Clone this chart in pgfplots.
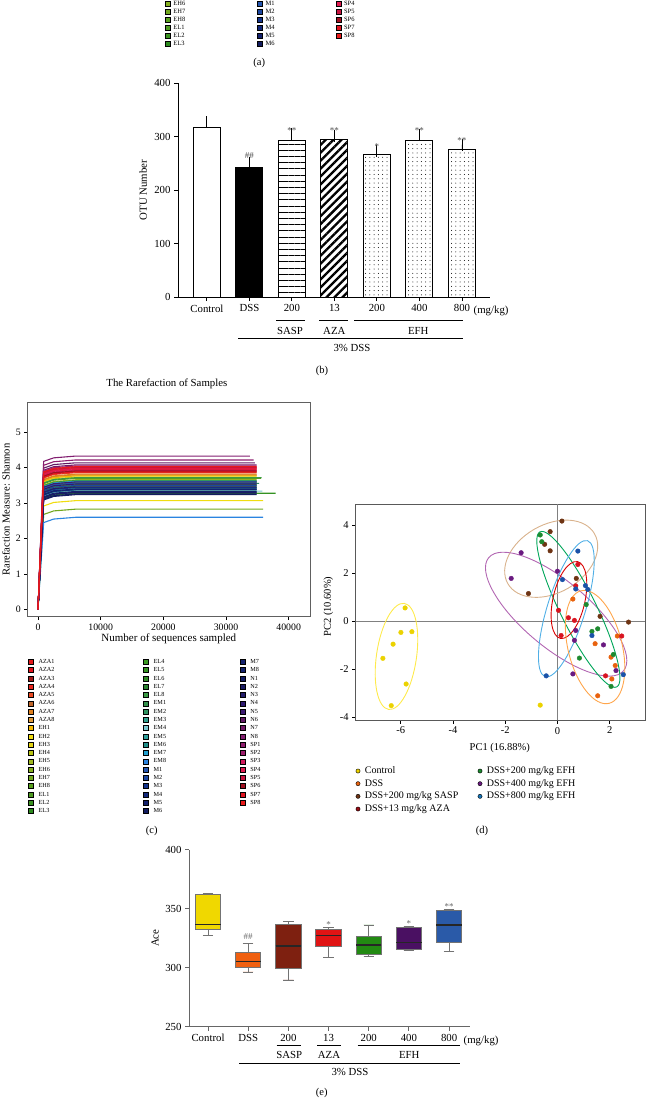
\documentclass[border=0pt]{standalone}
\usepackage{fontspec}
\setmainfont{Liberation Serif}
\usepackage{pgfplots}
\pgfplotsset{compat=1.18}
\usepgfplotslibrary{statistics}
\usetikzlibrary{patterns.meta}

% sample colours (rarefaction + legends)
\definecolor{cAZA1}{HTML}{E41A1C}\definecolor{cAZA2}{HTML}{E3141E}\definecolor{cAZA3}{HTML}{9E1A1A}\definecolor{cAZA4}{HTML}{E8261E}
\definecolor{cAZA5}{HTML}{EA4A22}\definecolor{cAZA6}{HTML}{C0662A}\definecolor{cAZA7}{HTML}{E0801E}\definecolor{cAZA8}{HTML}{E09A3A}
\definecolor{cEH1}{HTML}{F5B800}\definecolor{cEH2}{HTML}{F0DC10}\definecolor{cEH3}{HTML}{E4D414}\definecolor{cEH4}{HTML}{B8C414}
\definecolor{cEH5}{HTML}{A0B820}\definecolor{cEH6}{HTML}{86B020}\definecolor{cEH7}{HTML}{72A81E}\definecolor{cEH8}{HTML}{58A01E}
\definecolor{cEL1}{HTML}{4E9A22}\definecolor{cEL2}{HTML}{3A9220}\definecolor{cEL3}{HTML}{2C8A1E}\definecolor{cEL4}{HTML}{3A9A22}
\definecolor{cEL5}{HTML}{349222}\definecolor{cEL6}{HTML}{2E8A24}\definecolor{cEL7}{HTML}{2A8230}\definecolor{cEL8}{HTML}{3A9A44}
\definecolor{cEM1}{HTML}{34924C}\definecolor{cEM2}{HTML}{2E9260}\definecolor{cEM3}{HTML}{30A08E}\definecolor{cEM4}{HTML}{7CC8D0}
\definecolor{cEM5}{HTML}{30A09C}\definecolor{cEM6}{HTML}{22908A}\definecolor{cEM7}{HTML}{22A0D0}\definecolor{cEM8}{HTML}{2A84E0}
\definecolor{cM1}{HTML}{2456B0}\definecolor{cM2}{HTML}{1C46A0}\definecolor{cM3}{HTML}{14348C}\definecolor{cM4}{HTML}{12287A}
\definecolor{cM5}{HTML}{12206C}\definecolor{cM6}{HTML}{121C60}\definecolor{cM7}{HTML}{142270}\definecolor{cM8}{HTML}{14226C}
\definecolor{cN1}{HTML}{141C62}\definecolor{cN2}{HTML}{1C1C64}\definecolor{cN3}{HTML}{241C6A}\definecolor{cN4}{HTML}{2E1A70}
\definecolor{cN5}{HTML}{3C1A72}\definecolor{cN6}{HTML}{621A64}\definecolor{cN7}{HTML}{721A66}\definecolor{cN8}{HTML}{821E70}
\definecolor{cSP1}{HTML}{8E1E6E}\definecolor{cSP2}{HTML}{9C1E6C}\definecolor{cSP3}{HTML}{D01A5C}\definecolor{cSP4}{HTML}{E01A50}
\definecolor{cSP5}{HTML}{C81440}\definecolor{cSP6}{HTML}{A01020}\definecolor{cSP7}{HTML}{E01420}\definecolor{cSP8}{HTML}{E81A1A}
% group colours
\definecolor{gCtl}{HTML}{EBD200}\definecolor{gDSS}{HTML}{E8620E}\definecolor{gSASP}{HTML}{6E3414}
\definecolor{gAZA}{HTML}{D81420}\definecolor{gE2}{HTML}{1E8A30}\definecolor{gE4}{HTML}{6A1A80}\definecolor{gE8}{HTML}{1A52A8}
\definecolor{bCtl}{HTML}{F0D800}\definecolor{bDSS}{HTML}{F06010}\definecolor{bSASP}{HTML}{7E2010}
\definecolor{bAZA}{HTML}{E01414}\definecolor{bE2}{HTML}{228A12}\definecolor{bE4}{HTML}{4A1062}\definecolor{bE8}{HTML}{2A5AA8}

\pgfplotsset{
  sqleg/.style={legend image code/.code={\fill[##1] (0pt,-2.5pt) rectangle (5pt,2.5pt);}},
  dotleg/.style={legend image code/.code={\fill[##1] (2pt,0pt) circle (2.1pt);}},
  legaxis/.style={hide axis, scale only axis, width=1pt, height=1pt, xmin=0, xmax=1, ymin=0, ymax=1,
    anchor=north west, legend cell align=left,
    legend style={at={(0,1)}, anchor=north west, draw=none, fill=none, inner sep=0pt, outer sep=0pt}},
  smallleg/.style={legend style={font=\fontsize{6.2}{6.2}\selectfont, row sep=2.79pt, column sep=5pt,
    nodes={inner sep=0pt, text height=4.5pt, text depth=1pt}}},
}

\begin{document}
\begin{tikzpicture}
\useasboundingbox (0,0) rectangle (646pt,-1099pt);

% ---------- (a) remaining legend rows ----------
\begin{axis}[legaxis, sqleg, smallleg, at={(165pt,-0.6pt)}, legend style={row sep=2.64pt, column sep=3pt, font=\fontsize{6.5}{6.5}\selectfont}]
\addlegendimage{fill=cEH6}\addlegendentry{EH6}
\addlegendimage{fill=cEH7}\addlegendentry{EH7}
\addlegendimage{fill=cEH8}\addlegendentry{EH8}
\addlegendimage{fill=cEL1}\addlegendentry{EL1}
\addlegendimage{fill=cEL2}\addlegendentry{EL2}
\addlegendimage{fill=cEL3}\addlegendentry{EL3}
\end{axis}
\begin{axis}[legaxis, sqleg, smallleg, at={(257.3pt,-0.6pt)}, legend style={row sep=2.64pt, column sep=3pt, font=\fontsize{6.5}{6.5}\selectfont}]
\addlegendimage{fill=cM1}\addlegendentry{M1}
\addlegendimage{fill=cM2}\addlegendentry{M2}
\addlegendimage{fill=cM3}\addlegendentry{M3}
\addlegendimage{fill=cM4}\addlegendentry{M4}
\addlegendimage{fill=cM5}\addlegendentry{M5}
\addlegendimage{fill=cM6}\addlegendentry{M6}
\end{axis}
\begin{axis}[legaxis, sqleg, smallleg, at={(335.7pt,-0.6pt)}, legend style={row sep=2.64pt, column sep=3pt, font=\fontsize{6.5}{6.5}\selectfont}]
\addlegendimage{fill=cSP4}\addlegendentry{SP4}
\addlegendimage{fill=cSP5}\addlegendentry{SP5}
\addlegendimage{fill=cSP6}\addlegendentry{SP6}
\addlegendimage{fill=cSP7}\addlegendentry{SP7}
\addlegendimage{fill=cSP8}\addlegendentry{SP8}
\end{axis}
\node[font=\fontsize{10.5}{12}\selectfont] at (259.3pt,-63.3pt) {(a)};

% ---------- (b) OTU number ----------
\begin{axis}[at={(178pt,-297pt)}, anchor=south west, scale only axis, width=312pt, height=214pt,
  xmin=-0.68, xmax=6.66, ymin=0, ymax=400,
  axis lines*=left, axis line style={line width=0.9pt},
  tick align=outside, major tick length=4pt, tick style={black, line width=0.9pt},
  xtick={0,...,6}, xticklabels={Control,DSS,200,13,200,400,800},
  ytick={0,100,200,300,400},
  /pgf/number format/assume math mode=true,
  font=\fontsize{10.8}{12}\selectfont,
  ylabel={OTU Number}, ylabel style={at={(axis description cs:-0.112,0.5)}, anchor=center},
  ybar, bar width=27pt, bar shift=0pt,
  every axis plot/.append style={draw=black, line width=1pt, bar shift=0pt,
    error bars/y dir=plus, error bars/y explicit,
    error bars/error bar style={line width=0.9pt, black, solid},
    error bars/error mark options={mark size=6pt, line width=0.9pt, black}},
]
\addplot[fill=white] coordinates {(0,317) +- (0,10)};
\addplot[fill=black] coordinates {(1,242) +- (0,9)};
\addplot[pattern={Lines[angle=0,distance=6.2pt,line width=1pt]}] coordinates {(2,292) +- (0,12)};
\addplot[pattern={Lines[angle=45,distance=5.6pt,line width=2.3pt]}] coordinates {(3,295) +- (0,6)};
\addplot[pattern={Dots[radius=0.5pt,distance=4.3pt]}] coordinates {(4,267) +- (0,6)};
\addplot[pattern={Dots[radius=0.5pt,distance=4.3pt]}] coordinates {(5,292) +- (0,11)};
\addplot[pattern={Dots[radius=0.5pt,distance=4.3pt]}] coordinates {(6,275) +- (0,10)};
\begin{scope}[font=\fontsize{9}{9}\selectfont, black!70]
\node at (axis cs:1,264) {\#\#};
\node at (axis cs:2,311) {**};
\node at (axis cs:3,311) {**};
\node at (axis cs:4,281) {*};
\node at (axis cs:5,311) {**};
\node at (axis cs:6,292) {**};
\end{scope}
\end{axis}
\begin{scope}[line width=0.8pt, font=\fontsize{10.8}{12}\selectfont]
\node[anchor=west] at (470pt,-311pt) {(mg/kg)};
\draw (276pt,-320pt) -- (305pt,-320pt);
\draw (319pt,-320pt) -- (348pt,-320pt);
\draw (354pt,-320pt) -- (463pt,-320pt);
\node at (290pt,-331pt) {SASP};
\node at (334.3pt,-331pt) {AZA};
\node at (418.3pt,-331pt) {EFH};
\draw (238pt,-338pt) -- (463pt,-338pt);
\node at (352pt,-348pt) {3\% DSS};
\node[font=\fontsize{10.5}{12}\selectfont] at (322pt,-371pt) {(b)};
\end{scope}

% ---------- (c) rarefaction ----------
\begin{axis}[at={(27.7pt,-616.7pt)}, anchor=south west, scale only axis, width=282.3pt, height=214.4pt,
  xmin=-1645, xmax=43400, ymin=-0.21, ymax=5.85,
  axis line style={gray!75!black, line width=0.8pt},
  tick align=outside, major tick length=3.5pt, tick style={black, line width=0.7pt},
  xtick pos=bottom, ytick pos=left,
  xtick={0,10000,20000,30000,40000}, ytick={0,1,2,3,4,5},
  scaled x ticks=false, x tick label style={/pgf/number format/1000 sep={}},
  /pgf/number format/assume math mode=true,
  font=\fontsize{9.8}{11}\selectfont,
  title={The Rarefaction of Samples}, title style={font=\fontsize{10.8}{12}\selectfont, at={(0.493,1)}, anchor=south, yshift=4pt},
  xlabel={Number of sequences sampled}, xlabel style={font=\fontsize{11}{12}\selectfont, yshift=3pt},
  ylabel={Rarefaction Measure: Shannon}, ylabel style={font=\fontsize{10.6}{12}\selectfont, at={(axis description cs:-0.077,0.5)}, anchor=center},
  every axis plot/.append style={line width=1.1pt},
]
\addplot[cAZA1] coordinates {(0,0)(900,3.80)(2500,3.90)(6000,3.95)(34900,3.95)};
\addplot[cAZA2] coordinates {(0,0)(900,3.83)(2500,3.93)(6000,3.98)(34900,3.98)};
\addplot[cAZA3] coordinates {(0,0)(900,3.75)(2500,3.85)(6000,3.90)(34900,3.90)};
\addplot[cAZA4] coordinates {(0,0)(900,3.85)(2500,3.95)(6000,4.00)(34900,4.00)};
\addplot[cAZA5] coordinates {(0,0)(900,3.71)(2500,3.81)(6000,3.86)(34900,3.86)};
\addplot[cAZA6] coordinates {(0,0)(900,3.65)(2500,3.75)(6000,3.80)(34900,3.80)};
\addplot[cAZA7] coordinates {(0,0)(900,3.67)(2500,3.77)(6000,3.82)(34900,3.82)};
\addplot[cAZA8] coordinates {(0,0)(900,3.63)(2500,3.73)(6000,3.78)(34900,3.78)};
\addplot[cEH1] coordinates {(0,0)(900,3.62)(2500,3.72)(6000,3.77)(34900,3.77)};
\addplot[cEH2] coordinates {(0,0)(900,2.92)(2500,3.02)(6000,3.07)(35900,3.07)};
\addplot[cEH3] coordinates {(0,0)(900,3.59)(2500,3.69)(6000,3.74)(34900,3.74)};
\addplot[cEH4] coordinates {(0,0)(900,3.47)(2500,3.57)(6000,3.62)(34900,3.62)};
\addplot[cEH5] coordinates {(0,0)(900,3.51)(2500,3.61)(6000,3.66)(34900,3.66)};
\addplot[cEH6] coordinates {(0,0)(900,3.43)(2500,3.53)(6000,3.58)(34900,3.58)};
\addplot[cEH7] coordinates {(0,0)(900,2.68)(2500,2.78)(6000,2.83)(35900,2.83)};
\addplot[cEH8] coordinates {(0,0)(900,3.55)(2500,3.65)(6000,3.70)(35600,3.70)};
\addplot[cEL1] coordinates {(0,0)(900,3.37)(2500,3.47)(6000,3.52)(34900,3.52)};
\addplot[cEL2] coordinates {(0,0)(900,3.49)(2500,3.59)(6000,3.64)(34900,3.64)};
\addplot[cEL3] coordinates {(0,0)(900,3.30)(2500,3.40)(6000,3.45)(34900,3.45)};
\addplot[cEL4] coordinates {(0,0)(900,3.40)(2500,3.50)(6000,3.55)(34900,3.55)};
\addplot[cEL5] coordinates {(0,0)(900,3.13)(2500,3.23)(6000,3.28)(37900,3.28)};
\addplot[cEL6] coordinates {(0,0)(900,3.33)(2500,3.43)(6000,3.48)(34900,3.48)};
\addplot[cEL7] coordinates {(0,0)(900,3.45)(2500,3.55)(6000,3.60)(34900,3.60)};
\addplot[cEL8] coordinates {(0,0)(900,3.57)(2500,3.67)(6000,3.72)(35700,3.72)};
\addplot[cEM1] coordinates {(0,0)(900,3.35)(2500,3.45)(6000,3.50)(34900,3.50)};
\addplot[cEM2] coordinates {(0,0)(900,3.41)(2500,3.51)(6000,3.56)(35300,3.56)};
\addplot[cEM3] coordinates {(0,0)(900,3.25)(2500,3.35)(6000,3.40)(34900,3.40)};
\addplot[cEM4] coordinates {(0,0)(900,3.19)(2500,3.29)(6000,3.34)(35800,3.34)};
\addplot[cEM5] coordinates {(0,0)(900,3.27)(2500,3.37)(6000,3.42)(34900,3.42)};
\addplot[cEM6] coordinates {(0,0)(900,3.22)(2500,3.32)(6000,3.37)(34900,3.37)};
\addplot[cEM7] coordinates {(0,0)(900,3.47)(2500,3.57)(6000,3.62)(34900,3.62)};
\addplot[cEM8] coordinates {(0,0)(900,2.45)(2500,2.55)(6000,2.60)(35900,2.60)};
\addplot[cM1] coordinates {(0,0)(900,3.42)(2500,3.52)(6000,3.57)(34900,3.57)};
\addplot[cM2] coordinates {(0,0)(900,3.35)(2500,3.45)(6000,3.50)(34900,3.50)};
\addplot[cM3] coordinates {(0,0)(900,3.29)(2500,3.39)(6000,3.44)(34900,3.44)};
\addplot[cM4] coordinates {(0,0)(900,3.23)(2500,3.33)(6000,3.38)(34900,3.38)};
\addplot[cM5] coordinates {(0,0)(900,3.15)(2500,3.25)(6000,3.30)(34900,3.30)};
\addplot[cM6] coordinates {(0,0)(900,3.11)(2500,3.21)(6000,3.26)(34900,3.26)};
\addplot[cM7] coordinates {(0,0)(900,3.18)(2500,3.28)(6000,3.33)(34900,3.33)};
\addplot[cM8] coordinates {(0,0)(900,3.25)(2500,3.35)(6000,3.40)(34900,3.40)};
\addplot[cN1] coordinates {(0,0)(900,3.09)(2500,3.19)(6000,3.24)(34900,3.24)};
\addplot[cN2] coordinates {(0,0)(900,3.16)(2500,3.26)(6000,3.31)(34900,3.31)};
\addplot[cN3] coordinates {(0,0)(900,3.31)(2500,3.41)(6000,3.46)(34900,3.46)};
\addplot[cN4] coordinates {(0,0)(900,3.39)(2500,3.49)(6000,3.54)(34900,3.54)};
\addplot[cN5] coordinates {(0,0)(900,3.45)(2500,3.55)(6000,3.60)(34900,3.60)};
\addplot[cN6] coordinates {(0,0)(900,3.99)(2500,4.09)(6000,4.14)(34600,4.14)};
\addplot[cN7] coordinates {(0,0)(900,3.93)(2500,4.03)(6000,4.08)(34900,4.08)};
\addplot[cN8] coordinates {(0,0)(900,4.18)(2500,4.28)(6000,4.33)(33800,4.33)};
\addplot[cSP1] coordinates {(0,0)(900,4.07)(2500,4.17)(6000,4.22)(34400,4.22)};
\addplot[cSP2] coordinates {(0,0)(900,3.90)(2500,4.00)(6000,4.05)(34900,4.05)};
\addplot[cSP3] coordinates {(0,0)(900,3.78)(2500,3.88)(6000,3.93)(34900,3.93)};
\addplot[cSP4] coordinates {(0,0)(900,3.82)(2500,3.92)(6000,3.97)(34900,3.97)};
\addplot[cSP5] coordinates {(0,0)(900,3.86)(2500,3.96)(6000,4.01)(34900,4.01)};
\addplot[cSP6] coordinates {(0,0)(900,3.76)(2500,3.86)(6000,3.91)(34900,3.91)};
\addplot[cSP7] coordinates {(0,0)(900,3.73)(2500,3.83)(6000,3.88)(34900,3.88)};
\addplot[cSP8] coordinates {(0,0)(900,3.88)(2500,3.98)(6000,4.03)(34900,4.03)};
\end{axis}

% legend of (c), three columns
\begin{axis}[legaxis, sqleg, smallleg, at={(28.3pt,-659pt)}]
\addlegendimage{fill=cAZA1}\addlegendentry{AZA1}
\addlegendimage{fill=cAZA2}\addlegendentry{AZA2}
\addlegendimage{fill=cAZA3}\addlegendentry{AZA3}
\addlegendimage{fill=cAZA4}\addlegendentry{AZA4}
\addlegendimage{fill=cAZA5}\addlegendentry{AZA5}
\addlegendimage{fill=cAZA6}\addlegendentry{AZA6}
\addlegendimage{fill=cAZA7}\addlegendentry{AZA7}
\addlegendimage{fill=cAZA8}\addlegendentry{AZA8}
\addlegendimage{fill=cEH1}\addlegendentry{EH1}
\addlegendimage{fill=cEH2}\addlegendentry{EH2}
\addlegendimage{fill=cEH3}\addlegendentry{EH3}
\addlegendimage{fill=cEH4}\addlegendentry{EH4}
\addlegendimage{fill=cEH5}\addlegendentry{EH5}
\addlegendimage{fill=cEH6}\addlegendentry{EH6}
\addlegendimage{fill=cEH7}\addlegendentry{EH7}
\addlegendimage{fill=cEH8}\addlegendentry{EH8}
\addlegendimage{fill=cEL1}\addlegendentry{EL1}
\addlegendimage{fill=cEL2}\addlegendentry{EL2}
\addlegendimage{fill=cEL3}\addlegendentry{EL3}
\end{axis}
\begin{axis}[legaxis, sqleg, smallleg, at={(143.3pt,-659pt)}]
\addlegendimage{fill=cEL4}\addlegendentry{EL4}
\addlegendimage{fill=cEL5}\addlegendentry{EL5}
\addlegendimage{fill=cEL6}\addlegendentry{EL6}
\addlegendimage{fill=cEL7}\addlegendentry{EL7}
\addlegendimage{fill=cEL8}\addlegendentry{EL8}
\addlegendimage{fill=cEM1}\addlegendentry{EM1}
\addlegendimage{fill=cEM2}\addlegendentry{EM2}
\addlegendimage{fill=cEM3}\addlegendentry{EM3}
\addlegendimage{fill=cEM4}\addlegendentry{EM4}
\addlegendimage{fill=cEM5}\addlegendentry{EM5}
\addlegendimage{fill=cEM6}\addlegendentry{EM6}
\addlegendimage{fill=cEM7}\addlegendentry{EM7}
\addlegendimage{fill=cEM8}\addlegendentry{EM8}
\addlegendimage{fill=cM1}\addlegendentry{M1}
\addlegendimage{fill=cM2}\addlegendentry{M2}
\addlegendimage{fill=cM3}\addlegendentry{M3}
\addlegendimage{fill=cM4}\addlegendentry{M4}
\addlegendimage{fill=cM5}\addlegendentry{M5}
\addlegendimage{fill=cM6}\addlegendentry{M6}
\end{axis}
\begin{axis}[legaxis, sqleg, smallleg, at={(240pt,-659pt)}]
\addlegendimage{fill=cM7}\addlegendentry{M7}
\addlegendimage{fill=cM8}\addlegendentry{M8}
\addlegendimage{fill=cN1}\addlegendentry{N1}
\addlegendimage{fill=cN2}\addlegendentry{N2}
\addlegendimage{fill=cN3}\addlegendentry{N3}
\addlegendimage{fill=cN4}\addlegendentry{N4}
\addlegendimage{fill=cN5}\addlegendentry{N5}
\addlegendimage{fill=cN6}\addlegendentry{N6}
\addlegendimage{fill=cN7}\addlegendentry{N7}
\addlegendimage{fill=cN8}\addlegendentry{N8}
\addlegendimage{fill=cSP1}\addlegendentry{SP1}
\addlegendimage{fill=cSP2}\addlegendentry{SP2}
\addlegendimage{fill=cSP3}\addlegendentry{SP3}
\addlegendimage{fill=cSP4}\addlegendentry{SP4}
\addlegendimage{fill=cSP5}\addlegendentry{SP5}
\addlegendimage{fill=cSP6}\addlegendentry{SP6}
\addlegendimage{fill=cSP7}\addlegendentry{SP7}
\addlegendimage{fill=cSP8}\addlegendentry{SP8}
\end{axis}
\node[font=\fontsize{10.5}{12}\selectfont] at (151.7pt,-831pt) {(c)};

% ---------- (d) PCA ----------
\begin{axis}[at={(355.7pt,-720pt)}, anchor=south west, scale only axis, width=289.3pt, height=216pt,
  xmin=-7.72, xmax=3.35, ymin=-4.11, ymax=4.89,
  axis line style={gray!70!black, line width=0.8pt},
  tick align=outside, major tick length=3.5pt, tick style={black, line width=0.7pt},
  xtick pos=bottom, ytick pos=left,
  xtick={-6,-4,-2,0,2}, ytick={-4,-2,0,2,4},
  /pgf/number format/assume math mode=true,
  font=\fontsize{10.5}{12}\selectfont,
  xlabel={PC1 (16.88\%)}, xlabel style={at={(axis description cs:0.498,-0.13)}, anchor=center},
  ylabel={PC2 (10.60\%)}, ylabel style={at={(axis description cs:-0.0947,0.525)}, anchor=center},
  every axis plot/.append style={only marks, mark=*, mark size=2.3pt},
]
\draw[gray, line width=0.8pt] (axis cs:0,-4.11) -- (axis cs:0,4.89);
\draw[gray, line width=0.8pt] (axis cs:-7.72,0) -- (axis cs:3.35,0);
\begin{scope}[line width=0.9pt]
\draw[yellow!85!orange!70, rotate around={81.6:(axis cs:-6.16,-1.46)}] (axis cs:-6.16,-1.46) ellipse [x radius=53.6pt, y radius=20pt];
\draw[brown!60!white, rotate around={30:(axis cs:-0.24,2.61)}] (axis cs:-0.24,2.61) ellipse [x radius=50pt, y radius=34pt];
\draw[violet!60, rotate around={-40:(axis cs:-0.05,0.30)}] (axis cs:-0.05,0.30) ellipse [x radius=88pt, y radius=33pt];
\draw[teal!70!green, rotate around={-63.7:(axis cs:0.80,0.50)}] (axis cs:0.80,0.50) ellipse [x radius=86.5pt, y radius=18pt];
\draw[cyan!80!blue!70, rotate around={72.7:(axis cs:0.34,0.53)}] (axis cs:0.34,0.53) ellipse [x radius=71.2pt, y radius=19pt];
\draw[red!85!black, rotate around={77.3:(axis cs:0.44,0.89)}] (axis cs:0.44,0.89) ellipse [x radius=39.3pt, y radius=16pt];
\draw[orange!70!white, rotate around={-76:(axis cs:1.44,-1.07)}] (axis cs:1.44,-1.07) ellipse [x radius=58pt, y radius=27pt];
\end{scope}
\addplot[gCtl] coordinates {(-5.83,0.56)(-5.99,-0.46)(-5.57,-0.43)(-6.29,-0.95)(-6.68,-1.54)(-5.79,-2.61)(-6.36,-3.51)(-0.66,-3.49)};
\addplot[gDSS] coordinates {(0.59,0.93)(2.29,-0.61)(1.44,-0.93)(2.05,-1.49)(2.21,-1.84)(2.08,-2.40)(1.54,-3.10)};
\addplot[gSASP] coordinates {(0.17,4.18)(-0.28,3.74)(-0.49,3.21)(-0.28,2.94)(0.72,1.79)(-1.11,1.16)(1.63,0.21)(2.72,-0.03)};
\addplot[gAZA] coordinates {(0.78,2.37)(0.70,1.48)(0.04,0.46)(0.42,0.15)(0.65,0.04)(0.14,-0.59)(2.46,-0.61)(1.84,-2.27)};
\addplot[gE2] coordinates {(-0.66,3.60)(-0.60,3.32)(1.10,0.70)(1.32,-0.42)(1.54,-0.31)(0.84,-1.53)(2.14,-1.38)(2.05,-2.71)};
\addplot[gE4] coordinates {(-1.39,2.86)(-1.77,1.79)(0.00,2.09)(0.70,-0.38)(0.65,-0.79)(1.76,-0.98)(0.59,-2.19)(2.24,-2.05)};
\addplot[gE8] coordinates {(0.78,2.93)(0.19,1.74)(1.07,1.49)(1.16,1.33)(0.70,1.35)(1.32,-0.59)(-0.43,-2.27)(2.52,-2.22)};
\end{axis}

% legend of (d)
\begin{axis}[legaxis, dotleg, at={(355.7pt,-766.5pt)},
  legend style={font=\fontsize{10}{10}\selectfont, row sep=3.67pt, column sep=4.6pt, nodes={inner sep=0pt, text height=7pt, text depth=2pt}}]
\addlegendimage{fill=gCtl}\addlegendentry{Control}
\addlegendimage{fill=gDSS}\addlegendentry{DSS}
\addlegendimage{fill=gSASP}\addlegendentry{DSS+200 mg/kg SASP}
\addlegendimage{fill=gAZA!70!black}\addlegendentry{DSS+13 mg/kg AZA}
\end{axis}
\begin{axis}[legaxis, dotleg, at={(477.7pt,-766.5pt)},
  legend style={font=\fontsize{10}{10}\selectfont, row sep=3.67pt, column sep=4.6pt, nodes={inner sep=0pt, text height=7pt, text depth=2pt}}]
\addlegendimage{fill=gE2}\addlegendentry{DSS+200 mg/kg EFH}
\addlegendimage{fill=gE4}\addlegendentry{DSS+400 mg/kg EFH}
\addlegendimage{fill=gE8!80!cyan}\addlegendentry{DSS+800 mg/kg EFH}
\end{axis}
\node[font=\fontsize{10.5}{12}\selectfont] at (482pt,-831pt) {(d)};

% ---------- (e) Ace boxplots ----------
\begin{axis}[at={(189pt,-1026.7pt)}, anchor=south west, scale only axis, width=281pt, height=177pt,
  xmin=-0.473, xmax=6.52, ymin=250, ymax=400,
  axis lines*=left, axis line style={gray!80!black, line width=0.9pt},
  tick align=outside, major tick length=4pt, tick style={gray!80!black, line width=0.9pt},
  xtick={0,...,6}, xticklabels={Control,DSS,200,13,200,400,800},
  ytick={250,300,350,400},
  /pgf/number format/assume math mode=true,
  font=\fontsize{10.8}{12}\selectfont,
  ylabel={Ace}, ylabel style={at={(axis description cs:-0.121,0.5)}, anchor=center},
  boxplot/draw direction=y,
  boxplot/box extend=0.63, boxplot/whisker extend=0.26,
  every boxplot/.style={draw=black!55, line width=0.9pt, solid, mark=none},
  boxplot/every median/.style={line width=1.5pt, draw=black!85},
]
\addplot+[boxplot prepared={lower whisker=327.7, lower quartile=332.5, median=336.8, upper quartile=361.9, upper whisker=363.0, draw position=0}, fill=bCtl, draw=black!55] coordinates {};
\addplot+[boxplot prepared={lower whisker=296.4, lower quartile=300.3, median=305.4, upper quartile=313.3, upper whisker=320.9, draw position=1}, fill=bDSS, draw=black!55] coordinates {};
\addplot+[boxplot prepared={lower whisker=289.6, lower quartile=299.2, median=318.4, upper quartile=336.5, upper whisker=339.0, draw position=2}, fill=bSASP, draw=black!55] coordinates {};
\addplot+[boxplot prepared={lower whisker=308.8, lower quartile=318.1, median=327.4, upper quartile=332.2, upper whisker=334.5, draw position=3}, fill=bAZA, draw=black!55] coordinates {};
\addplot+[boxplot prepared={lower whisker=309.6, lower quartile=311.3, median=319.2, upper quartile=326.9, upper whisker=336.2, draw position=4}, fill=bE2, draw=black!55] coordinates {};
\addplot+[boxplot prepared={lower whisker=314.8, lower quartile=315.3, median=321.2, upper quartile=333.9, upper whisker=335.1, draw position=5}, fill=bE4, draw=black!55] coordinates {};
\addplot+[boxplot prepared={lower whisker=313.9, lower quartile=321.8, median=336.2, upper quartile=348.3, upper whisker=349.2, draw position=6}, fill=bE8, draw=black!55] coordinates {};
\begin{scope}[font=\fontsize{9}{9}\selectfont, black!60]
\node at (axis cs:1,326.3) {\#\#};
\node at (axis cs:3,336.5) {*};
\node at (axis cs:5,337.5) {*};
\node at (axis cs:6,352) {**};
\end{scope}
\end{axis}
\begin{scope}[line width=0.8pt, font=\fontsize{10.8}{12}\selectfont]
\node[anchor=west] at (460pt,-1040.7pt) {(mg/kg)};
\draw (276.7pt,-1045.3pt) -- (300.7pt,-1045.3pt);
\draw (317.3pt,-1045.3pt) -- (341pt,-1045.3pt);
\draw (357.7pt,-1045.3pt) -- (460pt,-1045.3pt);
\node at (289.3pt,-1055.3pt) {SASP};
\node at (329pt,-1055.3pt) {AZA};
\node at (409.3pt,-1055.3pt) {EFH};
\draw (239pt,-1063.3pt) -- (460pt,-1063.3pt);
\node at (350pt,-1072.3pt) {3\% DSS};
\node[font=\fontsize{10.5}{12}\selectfont] at (321.7pt,-1093pt) {(e)};
\end{scope}
\end{tikzpicture}
\end{document}
